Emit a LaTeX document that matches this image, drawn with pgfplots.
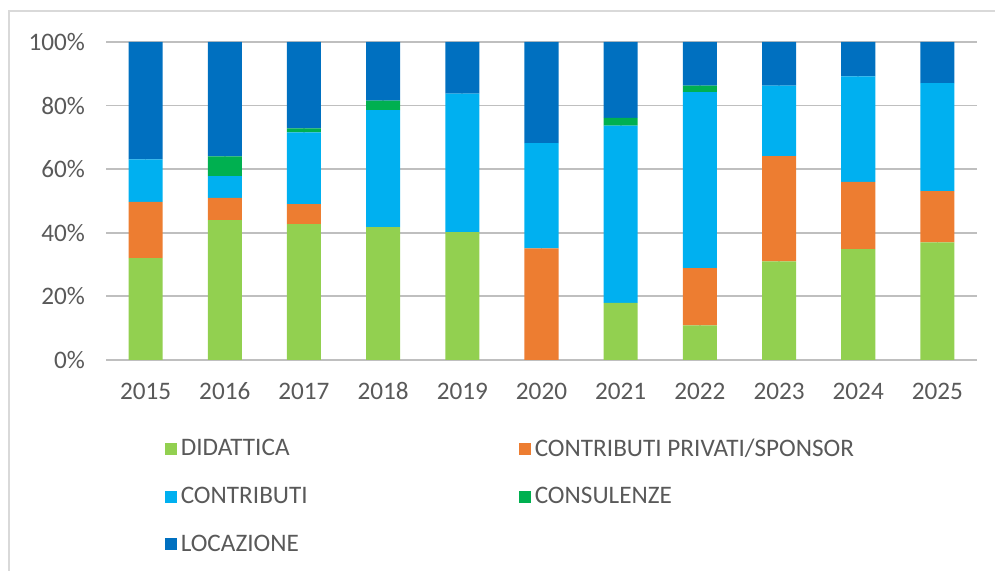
\documentclass[border=0pt]{standalone}
\usepackage{pgfplots}
\pgfplotsset{compat=1.18}
\usepackage{fontspec}
\setmainfont{Carlito}
\definecolor{didattica}{HTML}{92D050}
\definecolor{privati}{HTML}{ED7D31}
\definecolor{contrib}{HTML}{00B0F0}
\definecolor{consul}{HTML}{00B050}
\definecolor{locaz}{HTML}{0070C0}
\definecolor{txt}{HTML}{595959}
\definecolor{grid}{HTML}{D9D9D9}
\begin{document}
\begin{tikzpicture}[x=0.5pt,y=0.5pt]
% picture is 995 x 571 px, 1px = 0.5pt
\path[use as bounding box] (0,0) rectangle (995,571);
\draw[grid, line width=1pt] (9,0) -- (9,560) -- (995,560);
\begin{axis}[
    at={(53pt,105.5pt)}, anchor=south west,
    scale only axis, width=435.5pt, height=159pt,
    ybar stacked, bar width=0.43,
    xmin=-0.5, xmax=10.5, ymin=0, ymax=100,
    xtick={0,...,10},
    xticklabels={2015,2016,2017,2018,2019,2020,2021,2022,2023,2024,2025},
    ytick={0,20,40,60,80,100},
    yticklabels={0\%,20\%,40\%,60\%,80\%,100\%},
    major tick length=0pt,
    axis line style={draw=none},
    ymajorgrids, grid style={grid, line width=0.9pt},
    ticklabel style={font=\fontsize{12.6}{14}\selectfont, text=txt},
    yticklabel style={xshift=-7pt},
    xticklabel style={anchor=base, yshift=-20pt},
    every axis plot/.append style={draw=none},
    legend cell align=left,
    legend columns=2,
    legend style={draw=none, fill=none, inner sep=0pt,
        at={(axis description cs:0.067,-0.234)}, anchor=north west,
        font=\fontsize{12.6}{14}\selectfont, text=txt,
        /tikz/every even column/.append style={column sep=0pt},
        row sep=10pt},
    legend image code/.code={\fill[#1] (0pt,-3pt) rectangle (6pt,3pt);},
]
\addplot[fill=didattica] coordinates {(0,32) (1,44) (2,42.7) (3,41.8) (4,40.2) (5,0) (6,18) (7,10.9) (8,31) (9,34.9) (10,37)};
\addplot[fill=privati] coordinates {(0,17.7) (1,7) (2,6.3) (3,0) (4,0) (5,35.1) (6,0) (7,18) (8,33.1) (9,21.1) (10,16.1)};
\addplot[fill=contrib] coordinates {(0,13.4) (1,6.8) (2,22.6) (3,36.8) (4,43.6) (5,33.1) (6,55.7) (7,55.3) (8,22.2) (9,33.2) (10,34)};
\addplot[fill=consul] coordinates {(0,0) (1,6.2) (2,1.2) (3,3.0) (4,0) (5,0) (6,2.4) (7,2.1) (8,0) (9,0) (10,0)};
\addplot[fill=locaz] coordinates {(0,36.9) (1,36) (2,27.2) (3,18.4) (4,16.2) (5,31.8) (6,23.9) (7,13.7) (8,13.7) (9,10.8) (10,12.9)};
\legend{\makebox[167pt][l]{DIDATTICA},CONTRIBUTI PRIVATI/SPONSOR,CONTRIBUTI,CONSULENZE,LOCAZIONE}
\end{axis}
\end{tikzpicture}
\end{document}
